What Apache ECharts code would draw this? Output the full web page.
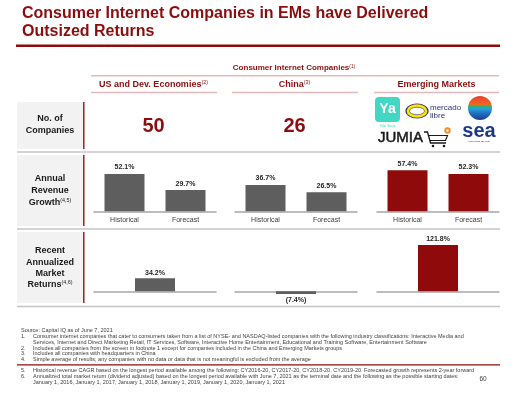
<!DOCTYPE html>
<html>
<head>
<meta charset="utf-8">
<script src="https://cdn.jsdelivr.net/npm/echarts@6/dist/echarts.min.js"></script>
<style>
  html, body { margin: 0; padding: 0; background: #fff; }
  #chart { width: 512px; height: 396px; }
</style>
</head>
<body>
<div id="chart"></div>
<script>
// data
const titleLines = ['Consumer Internet Companies in EMs have Delivered', 'Outsized Returns'];
const groupTitle = 'Consumer Internet Companies';
const regions = ['US and Dev. Economies', 'China', 'Emerging Markets'];
const regionNotes = ['(2)', '(3)', ''];
const companyCounts = ['50', '26', ''];
const growthCategories = ['Historical', 'Forecast'];
const growthUS = [52.1, 29.7];
const growthChina = [36.7, 26.5];
const growthEM = [57.4, 52.3];
const returnValues = [34.2, -7.4, 121.8];
const rowLabels = [
    [['No. of', ''], ['Companies', '']],
    [['Annual', ''], ['Revenue', ''], ['Growth', '(4,5)']],
    [['Recent', ''], ['Annualized', ''], ['Market', ''], ['Returns', '(4,6)']],
];
const footnotes = [
    ['', 'Source: Capital IQ as of June 7, 2021'],
    ['1.', 'Consumer internet companies that cater to consumers taken from a list of NYSE- and NASDAQ-listed companies with the following industry classifications: Interactive Media and'],
    ['', 'Services, Internet and Direct Marketing Retail, IT Services, Software, Interactive Home Entertainment, Educational and Training Software, Entertainment Software'],
    ['2.', 'Includes all companies from the screen in footnote 1 except for companies included in the China and Emerging Markets groups'],
    ['3.', 'Includes all companies with headquarters in China'],
    ['4.', 'Simple average of results; any companies with no data or data that is not meaningful is excluded from the average'],
    ['5.', 'Historical revenue CAGR based on the longest period available among the following: CY2016-20, CY2017-20, CY2018-20, CY2019-20. Forecasted growth represents 2-year forward'],
    ['6.', 'Annualized total market return (dividend adjusted) based on the longest period available with June 7, 2021 as the terminal date and the following as the possible starting dates:'],
    ['', 'January 1, 2016, January 1, 2017, January 1, 2018, January 1, 2019, January 1, 2020, January 1, 2021'],
];
const pageNumber = '60';

// layout
const FONT = 'Liberation Sans, Arial, sans-serif';
const RED = '#8c0d0d';
const BAR_RED = '#8f0b0b';
const BAR_GRAY = '#5e5e5e';
const PINK = '#e4b9b9';
const SEP = '#c4c4c4';
const colLeft = [94, 235, 377];
const colWidth = 122;
const colCenter = [154, 295, 437];
const headLine = [[91, 217], [232, 358], [374, 499]];
const rowBox = [[102, 149], [155, 226], [232, 303]];
const rowLineY = [[119, 131], [179, 191, 202.5], [251, 262.5, 273.5, 284.5]];
const sepY = [152, 229, 306.5];
const footY = [330.5, 336.5, 342.3, 348, 353.7, 359.4, 370.5, 376.3, 382];

const chart = echarts.init(document.getElementById('chart'));

const txt = (x, y, text, font, fill, align, extra) => Object.assign({
    type: 'text', x: x, y: y, silent: true,
    style: Object.assign({
        text: text, font: font, fill: fill,
        textAlign: align || 'left', align: align || 'left',
        textVerticalAlign: 'middle', verticalAlign: 'middle'
    }, extra || {})
});

const supText = (x, y, main, sup, size, fill) => ({
    type: 'text', x: x, y: y, silent: true,
    style: {
        text: '{m|' + main + '}' + (sup ? '{s|' + sup + '}' : ''),
        textAlign: 'center', align: 'center',
        textVerticalAlign: 'middle', verticalAlign: 'middle',
        rich: {
            m: { fontSize: size, fontWeight: 'bold', fontFamily: FONT, fill: fill },
            s: { fontSize: size * 0.6, fontFamily: FONT, fill: fill, verticalAlign: 'top' }
        }
    }
});

const hline = (x1, x2, y, color, w) => ({
    type: 'line', silent: true,
    shape: { x1: x1, y1: y, x2: x2, y2: y },
    style: { stroke: color, lineWidth: w }
});

const graphics = [];

// title
graphics.push(txt(22, 14, titleLines[0], 'bold 16px ' + FONT, RED));
graphics.push(txt(22, 32, titleLines[1], 'bold 16px ' + FONT, RED));
graphics.push({ type: 'rect', silent: true, shape: { x: 16, y: 44.5, width: 484, height: 2.6 }, style: { fill: RED } });

// column headers
graphics.push(supText(294, 68, groupTitle, '(1)', 8, RED));
graphics.push(hline(91, 499, 75.7, PINK, 1.5));
regions.forEach((r, i) => {
    graphics.push(supText(colCenter[i] - 0.5, 85, r, regionNotes[i], 9, RED));
    graphics.push(hline(headLine[i][0], headLine[i][1], 92.5, PINK, 1.5));
});

// row label boxes
rowBox.forEach((b, i) => {
    graphics.push({ type: 'rect', silent: true, shape: { x: 17, y: b[0], width: 66, height: b[1] - b[0] }, style: { fill: '#f2f2f2' } });
    graphics.push({ type: 'line', silent: true, shape: { x1: 83.8, y1: b[0], x2: 83.8, y2: b[1] }, style: { stroke: '#9a1010', lineWidth: 1.4 } });
    graphics.push(hline(17, 500, sepY[i], SEP, 1.4));
    rowLabels[i].forEach((l, j) => {
        graphics.push(supText(50, rowLineY[i][j], l[0], l[1], 9, '#1a1a1a'));
    });
});

// company counts
companyCounts.forEach((c, i) => {
    if (c) graphics.push(txt(colCenter[i] - 0.5, 126, c, 'bold 20px ' + FONT, RED, 'center'));
});

// emerging market logos (rough)
graphics.push({ type: 'rect', silent: true, shape: { x: 375, y: 97, width: 25, height: 25, r: 4 }, style: { fill: '#42d6c4' } });
graphics.push(txt(387.5, 109.5, 'Ya', 'bold 14px ' + FONT, '#ffffff', 'center'));
graphics.push(txt(387.5, 126, 'Yalla Group', '3px ' + FONT, '#42d6c4', 'center'));

graphics.push({ type: 'circle', silent: true, x: 417, y: 111, scaleY: 0.64, shape: { cx: 0, cy: 0, r: 11 }, style: { fill: '#ffe600', stroke: '#2d3277', lineWidth: 1.2 } });
graphics.push({ type: 'circle', silent: true, x: 417, y: 111, scaleY: 0.5, shape: { cx: 0, cy: 0, r: 7.5 }, style: { fill: '#ffffff', stroke: '#2d3277', lineWidth: 0.8 } });
graphics.push(txt(430, 108, 'mercado', '8px ' + FONT, '#2d3277'));
graphics.push(txt(430, 115.5, 'libre', '8px ' + FONT, '#2d3277'));

graphics.push({
    type: 'circle', silent: true, shape: { cx: 480, cy: 108, r: 12 },
    style: {
        fill: {
            type: 'linear', x: 0, y: 0, x2: 0, y2: 1,
            colorStops: [
                { offset: 0, color: '#e8412c' }, { offset: 0.35, color: '#f26522' },
                { offset: 0.42, color: '#2fb36b' }, { offset: 0.5, color: '#2fb36b' },
                { offset: 0.52, color: '#27a3df' }, { offset: 0.72, color: '#1f6fc0' },
                { offset: 1, color: '#1c3c8f' }
            ]
        }
    }
});

graphics.push(txt(378, 138, 'JUMIA', '15px ' + FONT, '#1a1a1a', 'left', { stroke: '#1a1a1a', lineWidth: 0.5 }));
graphics.push({ type: 'polyline', silent: true, shape: { points: [[424, 132], [427.5, 132], [430.5, 143], [446, 143]] }, style: { stroke: '#1a1a1a', lineWidth: 1.3, fill: null } });
graphics.push({ type: 'polyline', silent: true, shape: { points: [[428.5, 135.5], [447.5, 135.5], [445.5, 140.5], [430, 140.5]] }, style: { stroke: '#1a1a1a', lineWidth: 1.1, fill: null } });
graphics.push({ type: 'circle', silent: true, shape: { cx: 433, cy: 146, r: 1.3 }, style: { fill: '#1a1a1a' } });
graphics.push({ type: 'circle', silent: true, shape: { cx: 444, cy: 146, r: 1.3 }, style: { fill: '#1a1a1a' } });
graphics.push({ type: 'circle', silent: true, shape: { cx: 447.5, cy: 130.5, r: 3.2 }, style: { fill: '#f68b1e' } });
graphics.push({ type: 'circle', silent: true, shape: { cx: 447.5, cy: 130.5, r: 1.2 }, style: { fill: '#ffffff' } });

graphics.push(txt(479, 131, 'sea', 'bold 20px ' + FONT, '#1d3a8a', 'center'));
graphics.push(txt(479, 141, 'connecting the dots', '2.5px ' + FONT, '#1d3a8a', 'center'));

// footnotes
footnotes.forEach((f, i) => {
    if (f[0]) graphics.push(txt(21, footY[i], f[0], '5.5px ' + FONT, '#404040'));
    graphics.push(txt(f[0] || i > 0 ? 33 : 21, footY[i], f[1], '5.5px ' + FONT, '#404040'));
});
graphics.push(hline(17, 500, 364.8, RED, 1.2));
graphics.push(txt(483, 379, pageNumber, '6.5px ' + FONT, '#404040', 'center'));

// bars
const fmtPct = v => v < 0 ? '(' + Math.abs(v).toFixed(1) + '%)' : v.toFixed(1) + '%';
const labelStyle = {
    show: true, position: 'top', distance: 3,
    fontSize: 7, fontWeight: 'bold', fontFamily: FONT, color: '#262626',
    formatter: p => fmtPct(p.value)
};
const axisLine = { lineStyle: { color: '#a6a6a6', width: 1.5 } };

const growthSets = [growthUS, growthChina, growthEM];
const barColors = [BAR_GRAY, BAR_GRAY, BAR_RED];

const grids = [], xAxes = [], yAxes = [], series = [];
growthSets.forEach((vals, i) => {
    grids.push({ left: colLeft[i], top: 168.4, width: colWidth, height: 42.9 });
    xAxes.push({
        type: 'category', gridIndex: i, data: growthCategories,
        axisLine: axisLine, axisTick: { show: false },
        axisLabel: { fontSize: 7, color: '#404040', fontFamily: FONT, margin: 5 }
    });
    yAxes.push({ type: 'value', gridIndex: i, min: 0, max: 60, show: false });
    series.push({
        type: 'bar', xAxisIndex: i, yAxisIndex: i, barWidth: 40,
        data: vals, itemStyle: { color: barColors[i] }, label: labelStyle
    });
});
returnValues.forEach((v, i) => {
    const k = i + 3;
    grids.push({ left: colLeft[i], top: 241.9, width: colWidth, height: 53.2 });
    xAxes.push({
        type: 'category', gridIndex: k, data: [''],
        axisLine: axisLine, axisTick: { show: false }, axisLabel: { show: false }
    });
    yAxes.push({ type: 'value', gridIndex: k, min: -10, max: 130, show: false });
    series.push({
        type: 'bar', xAxisIndex: k, yAxisIndex: k, barWidth: 40,
        data: [v < 0 ? { value: v, label: { position: 'bottom' } } : v],
        itemStyle: { color: barColors[i] },
        label: Object.assign({}, labelStyle, { distance: 2 })
    });
});

chart.setOption({
    animation: false,
    backgroundColor: '#ffffff',
    grid: grids,
    xAxis: xAxes,
    yAxis: yAxes,
    series: series,
    graphic: { elements: graphics }
});
</script>
</body>
</html>
